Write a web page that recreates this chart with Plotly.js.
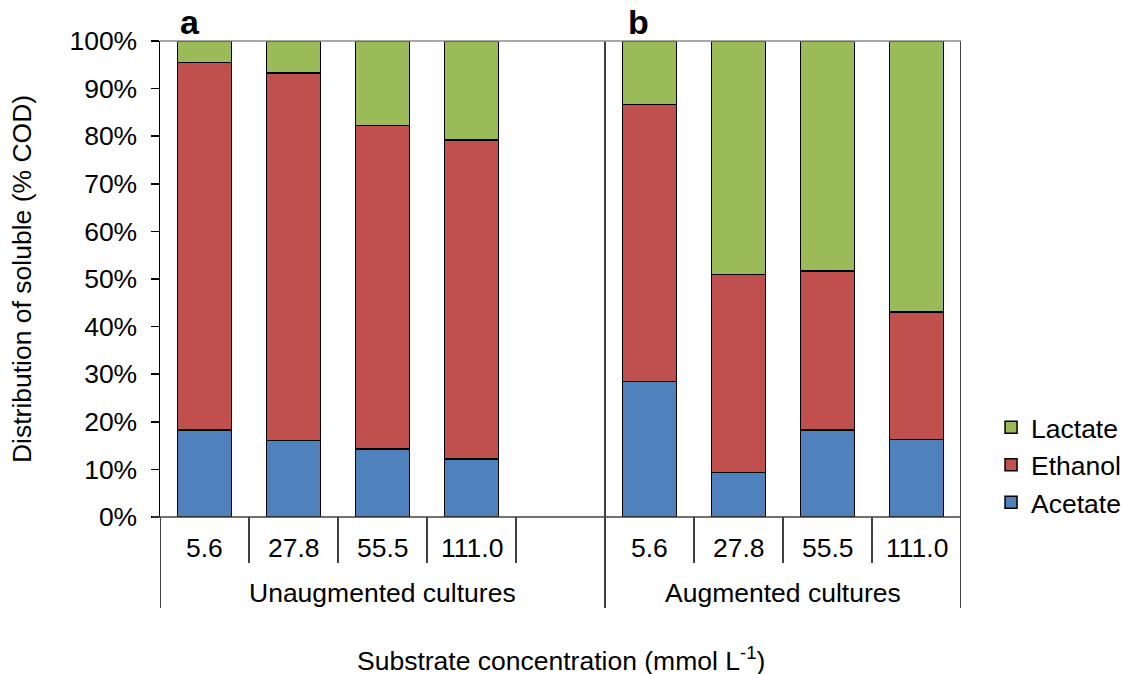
<!DOCTYPE html>
<html>
<head>
<meta charset="utf-8">
<script src="https://cdn.plot.ly/plotly-3.0.1.min.js"></script>
<style>html,body{margin:0;padding:0;background:#fff}#chart{width:1124px;height:674px}</style>
</head>
<body>
<div id="chart"></div>
<script>
// ---- data ----
const concentrations = ['5.6', '27.8', '55.5', '111.0'];
const groups = ['Unaugmented cultures', 'Augmented cultures'];
const seriesNames = ['Acetate', 'Ethanol', 'Lactate'];
const seriesColors = ['#4F81BD', '#C0504D', '#9BBB59'];
const acetateUnaug = [18.3, 16.1, 14.3, 12.2];
const ethanolUnaug = [77.2, 77.2, 67.9, 67.0];
const lactateUnaug = [4.5, 6.7, 17.8, 20.8];
const acetateAug = [28.5, 9.4, 18.3, 16.3];
const ethanolAug = [58.2, 41.5, 33.4, 26.8];
const lactateAug = [13.3, 49.1, 48.3, 56.9];
const panelLabels = ['a', 'b'];
const yTitle = 'Distribution of soluble (% COD)';
const xTitle = 'Substrate concentration (mmol L<sup>-1</sup>)';

// ---- layout helpers ----
const nSlots = 9;              // 4 + empty + 4
const augOffset = 5;
const xsUn = concentrations.map((_, i) => i);
const xsAug = concentrations.map((_, i) => i + augOffset);
const xs = xsUn.concat(xsAug);
const seriesVals = [
  acetateUnaug.concat(acetateAug),
  ethanolUnaug.concat(ethanolAug),
  lactateUnaug.concat(lactateAug)
];
const FONT = 'Liberation Sans, Arial, sans-serif';
const FS = 26.5;

const traces = seriesNames.map((name, k) => ({
  type: 'bar', name: name, x: xs, y: seriesVals[k],
  width: 0.607,
  marker: {color: seriesColors[k], line: {color: '#000', width: 1.5}},
  hoverinfo: 'name+y'
}));

const plotW = 801, plotH = 476;
const toPaperY = px => -px / plotH;   // px below x-axis
const shapes = [];
const annotations = [];
const allLabels = concentrations.map((c, i) => ({x: xsUn[i], t: c}))
  .concat(concentrations.map((c, i) => ({x: xsAug[i], t: c})));
const shortDiv = [0.5, 1.5, 2.5, 3.5, 5.5, 6.5, 7.5];
shortDiv.forEach(b => shapes.push({type: 'line', xref: 'x', yref: 'paper', x0: b, x1: b, y0: 0, y1: toPaperY(46), line: {color: '#000', width: 1.5}}));
[-0.5, 4.5, 8.5].forEach((b, i) => shapes.push({type: 'line', xref: 'x', yref: 'paper', x0: b, x1: b, y0: i === 0 ? 0 : 1, y1: toPaperY(91), line: {color: '#000', width: 1.5}}));
shapes.push({type: 'line', xref: 'paper', yref: 'paper', x0: 0, x1: 1, y0: 1, y1: 1, line: {color: '#8c8c8c', width: 1.5}});
shapes.push({type: 'line', xref: 'paper', yref: 'paper', x0: -8 / plotW, x1: 1, y0: 0, y1: 0, line: {color: '#404040', width: 1.5}});

const tf = {size: FS, color: '#000', family: FONT};
allLabels.forEach(l => annotations.push({xref: 'x', yref: 'paper', x: l.x, y: toPaperY(31), text: l.t, showarrow: false, xanchor: 'center', yanchor: 'middle', font: tf}));
// group spans: unaugmented covers slots 0-4 (incl. empty slot), augmented slots 5-8
annotations.push({xref: 'x', yref: 'paper', x: (-0.5 + 4.5) / 2, y: toPaperY(76), text: groups[0], showarrow: false, xanchor: 'center', yanchor: 'middle', font: tf});
annotations.push({xref: 'x', yref: 'paper', x: (4.5 + 8.5) / 2, y: toPaperY(76), text: groups[1], showarrow: false, xanchor: 'center', yanchor: 'middle', font: tf});
annotations.push({xref: 'paper', yref: 'paper', x: 0.5, y: toPaperY(142), text: xTitle, showarrow: false, xanchor: 'center', yanchor: 'middle', font: tf, height: 40, valign: 'middle'});
annotations.push({xref: 'paper', yref: 'paper', x: (190 - 160) / plotW, y: (517 - 22) / plotH, text: '<b>' + panelLabels[0] + '</b>', showarrow: false, xanchor: 'center', yanchor: 'middle', font: {size: 34, color: '#000', family: FONT}});
annotations.push({xref: 'paper', yref: 'paper', x: (638 - 160) / plotW, y: (517 - 22) / plotH, text: '<b>' + panelLabels[1] + '</b>', showarrow: false, xanchor: 'center', yanchor: 'middle', font: {size: 34, color: '#000', family: FONT}});

const layout = {
  width: 1124, height: 674,
  margin: {l: 160, r: 163, t: 41, b: 157, pad: 0, autoexpand: false},
  paper_bgcolor: '#fff', plot_bgcolor: '#fff',
  barmode: 'stack',
  font: {family: FONT, size: FS, color: '#000'},
  xaxis: {range: [-0.5, nSlots - 0.5], showticklabels: false, ticks: '', showgrid: false, zeroline: false, showline: false, fixedrange: true},
  yaxis: {
    range: [0, 100], dtick: 10, ticksuffix: '%', ticks: 'outside', ticklen: 8, tickwidth: 1.5, tickcolor: '#000',
    showline: true, linecolor: '#000', linewidth: 1.5, showgrid: false, zeroline: false,
    tickfont: tf, ticklabelstandoff: 8,
    title: {text: yTitle, font: tf, standoff: 30}
  },
  legend: {x: 1.0375, y: 0.109, xanchor: 'left', yanchor: 'middle', traceorder: 'reversed', font: tf, bgcolor: 'rgba(0,0,0,0)'},
  shapes: shapes,
  annotations: annotations,
  bargap: 0.39
};

Plotly.newPlot('chart', traces, layout, {displayModeBar: false, staticPlot: true});
</script>
</body>
</html>
